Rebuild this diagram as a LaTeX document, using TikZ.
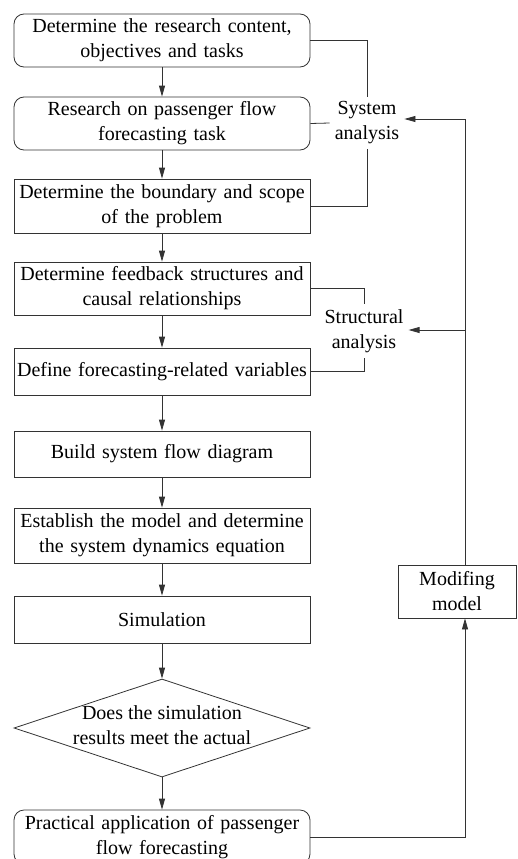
\documentclass[tikz,border=0pt]{standalone}
\usepackage{fontspec}
\setmainfont{Liberation Serif}
\usetikzlibrary{shapes.geometric,arrows.meta,calc}
\definecolor{linec}{gray}{0.2}
\begin{document}
\begin{tikzpicture}[x=1pt,y=-1pt,
  txt/.style={font=\fontsize{20}{25}\selectfont, text=black},
  box/.style={txt, draw=linec, line width=0.8pt, minimum width=296pt, text width=294pt, align=center, inner sep=0pt},
  rbox/.style={box, rounded corners=10pt},
  dia/.style={txt, draw=linec, line width=0.8pt, shape=diamond, minimum width=296pt, minimum height=98pt, inner sep=0pt},
  lbl/.style={txt, align=center, inner sep=5pt},
  conn/.style={draw=linec, line width=0.8pt},
  arr/.style={conn, -{Triangle[length=11pt,width=6pt]}}
]
\useasboundingbox (0,0) rectangle (518,859);

\node[rbox, minimum height=53pt] (b1) at (162,40.5) {Determine the research content,\\objectives and tasks};
\node[rbox, minimum height=53pt] (b2) at (162,123.5) {Research on passenger flow\\forecasting task};
\node[box, minimum height=54pt] (b3) at (162,206) {Determine the boundary and scope\\of the problem};
\node[box, minimum height=53pt] (b4) at (162,288.5) {Determine feedback structures and\\causal relationships};
\node[box, minimum height=47pt] (b5) at (162,371.5) {Define forecasting-related variables};
\node[box, minimum height=46pt] (b6) at (162,454) {Build system flow diagram};
\node[box, minimum height=55pt] (b7) at (162,535.5) {Establish the model and determine\\the system dynamics equation};
\node[box, minimum height=47pt] (b8) at (162,619.5) {Simulation};
\node[dia] (d) at (162,728) {\makebox[0pt]{\raisebox{-4pt}[0pt][0pt]{\begin{tabular}[c]{@{}c@{}}Does the simulation\\results meet the actual\end{tabular}}}};
\node[rbox, minimum height=54pt] (b9) at (162,837) {Practical application of passenger\\flow forecasting};

\node[box, minimum width=118pt, text width=110pt, minimum height=53pt] (mod) at (457,591.5) {Modifing\\model};

\node[lbl] (sys) at (367,123) {System\\analysis};
\node[lbl] (str) at (364,331) {Structural\\analysis};

\coordinate (rx) at (465,119);
\coordinate (rs) at (465,330);

\draw[arr] (b1) -- (b2);
\draw[arr] (b2) -- (b3);
\draw[arr] (b3) -- (b4);
\draw[arr] (b4) -- (b5);
\draw[arr] (b5) -- (b6);
\draw[arr] (b6) -- (b7);
\draw[arr] (b7) -- (b8);
\draw[arr] (b8) -- (d);
\draw[arr] (d) -- (b9);

\draw[conn] (b1.east) -| (sys.north);
\draw[conn] (b2.east) -- (sys.west);
\draw[conn] (b3.east) -| (sys.south);
\draw[conn] (b4.east) -| (str.north);
\draw[conn] (b5.east) -| (str.south);

\draw[arr] (mod.north -| rx) -- (rx) -- (rx -| sys.east);
\draw[arr] (rs) -- (rs -| str.east);
\draw[arr] (b9.east) -| (mod.south -| rx);
\end{tikzpicture}
\end{document}
